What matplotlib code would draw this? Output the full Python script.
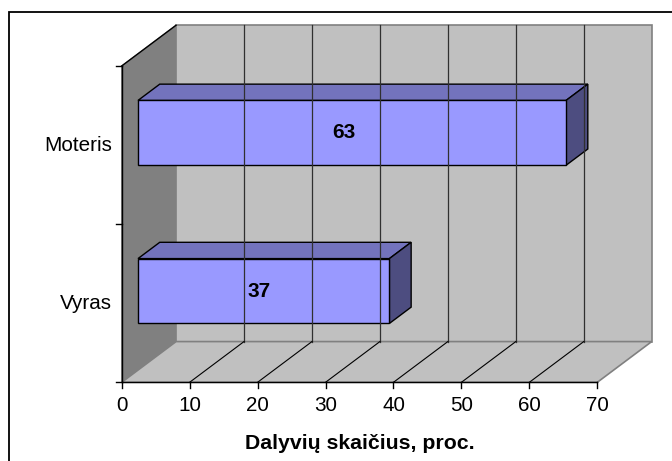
import matplotlib
matplotlib.use('Agg')
import matplotlib.pyplot as plt
from matplotlib.patches import Polygon, Rectangle

plt.rcParams['font.family'] = ['Liberation Sans', 'DejaVu Sans']

# duomenys
kategorijos = ['Vyras', 'Moteris']
reiksmes = [37, 63]
x_ticks = [0, 10, 20, 30, 40, 50, 60, 70]
x_pav = 'Dalyvių skaičius, proc.'

# 3D isvaizda (ofsetas gylio kryptimi, duomenu vienetais)
dx, dy = 8.0, 0.2575
xmax = 70
ny = len(kategorijos)
bar_h = 0.41
d0, d1 = 0.3, 0.7  # stulpelio gylis

fig = plt.figure(figsize=(6.72, 4.61), dpi=100)
ax = fig.add_axes([0, 0, 1, 1])
ax.set_xlim(-17.91, 80.99)
ax.set_ylim(-0.4976, 2.4173)
ax.axis('off')

# remelis
fig.patches.append(Rectangle((0.013, -0.1), 1.2, 1.0746, transform=fig.transFigure,
                             fill=False, ec='black', lw=1.3))

# sienos
ax.add_patch(Polygon([(0, 0), (0, ny), (dx, ny + dy), (dx, dy)], closed=True,
                     fc='#808080', ec='#808080', lw=1))
ax.add_patch(Polygon([(dx, dy), (xmax + dx, dy), (xmax + dx, ny + dy), (dx, ny + dy)], closed=True,
                     fc='#C0C0C0', ec='#808080', lw=1.2))
ax.add_patch(Polygon([(0, 0), (xmax, 0), (xmax + dx, dy), (dx, dy)], closed=True,
                     fc='#C0C0C0', ec='#808080', lw=1.2))
ax.plot([0, dx], [ny, ny + dy], color='black', lw=1)

# tinklelis
for t in x_ticks[1:-1]:
    ax.plot([t + dx, t + dx], [dy, ny + dy], color='#303030', lw=0.9)
    ax.plot([t, t + dx], [0, dy], color='black', lw=0.8)

# stulpeliai
for i, v in enumerate(reiksmes):
    yc = i + 0.5
    ox, oy = d0 * dx, d0 * dy
    bx, by = d1 * dx, d1 * dy
    y0, y1 = yc - bar_h / 2, yc + bar_h / 2
    front = [(ox, y0 + oy), (v + ox, y0 + oy), (v + ox, y1 + oy), (ox, y1 + oy)]
    top = [(ox, y1 + oy), (v + ox, y1 + oy), (v + bx, y1 + by), (bx, y1 + by)]
    side = [(v + ox, y0 + oy), (v + bx, y0 + by), (v + bx, y1 + by), (v + ox, y1 + oy)]
    ax.add_patch(Polygon(top, closed=True, fc='#7373BD', ec='black', lw=1))
    ax.add_patch(Polygon(side, closed=True, fc='#4D4D80', ec='black', lw=1))
    ax.add_patch(Polygon(front, closed=True, fc='#9999FF', ec='black', lw=1))
    ax.text(v * 0.48 + ox, yc + oy, str(v), ha='center', va='center',
            fontsize=15, fontweight='bold')

# asys
ax.plot([0, 0], [0, ny], color='black', lw=1)
ax.plot([0, xmax], [0, 0], color='black', lw=1)
for k in range(ny + 1):
    ax.plot([-0.88, 0], [k, k], color='black', lw=1)
for t in x_ticks:
    ax.plot([t, t], [0, -0.038], color='black', lw=1)
    ax.text(t, -0.147, str(t), ha='center', va='center', fontsize=14.9)
for i, k in enumerate(kategorijos):
    ax.text(-1.43, i + 0.5, k, ha='right', va='center', fontsize=14.9)

ax.text(xmax / 2, -0.39, x_pav, ha='center', va='center', fontsize=15.3, fontweight='bold')

fig.savefig('out.png', dpi=100)
